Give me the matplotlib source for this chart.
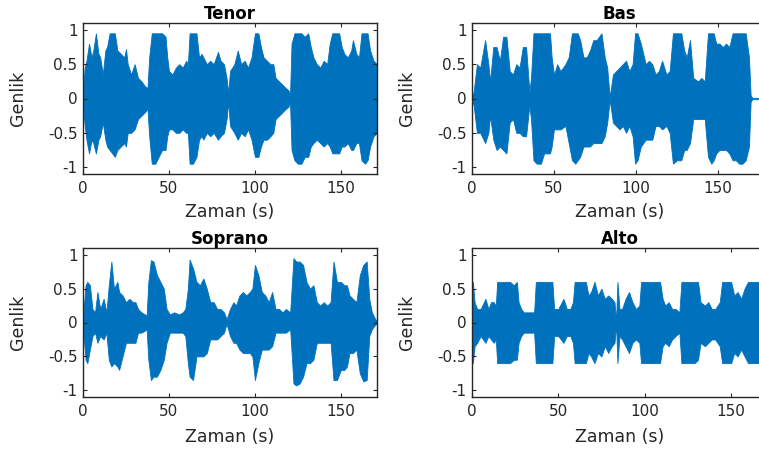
import numpy as np
import matplotlib
matplotlib.use("Agg")
import matplotlib.pyplot as plt

plt.rcParams['font.family'] = ['DejaVu Sans']
plt.rcParams['axes.unicode_minus'] = False

# ---- data: amplitude envelopes (time s, upper, lower) ----
tenor_t = [0, 1, 2, 3.5, 5, 6, 7.5, 9, 10, 11.5, 13, 14, 15.5, 17, 18.5, 20, 22, 24, 25, 26, 28, 30,
           32, 34, 36, 37.5, 38.5, 40, 42, 44, 46, 48, 49, 50, 52, 54, 56, 58, 60, 61, 62, 64, 66, 67.5,
           69, 70, 72, 74, 76, 78.5, 80, 82, 83.5, 84.5, 85.5, 88, 90, 92, 94, 96, 98, 100, 102, 103.5,
           105, 107, 109, 110.7, 112, 114, 116, 118, 119.5, 120.4, 121.3, 123, 125, 127, 129, 131, 132.5,
           134, 136, 138, 140, 142, 143.5, 145, 147, 149, 150.5, 152, 154, 156, 157, 159, 160.5, 162,
           164, 165.5, 167, 169, 171]
tenor_up = [0.1, 0.45, 0.55, 0.8, 0.6, 0.7, 0.95, 0.65, 0.6, 0.35, 0.7, 0.75, 0.95, 0.95, 0.95, 0.7,
            0.65, 0.6, 0.72, 0.5, 0.35, 0.5, 0.3, 0.25, 0.18, 0.15, 0.6, 0.95, 0.95, 0.95, 0.95, 0.9,
            0.6, 0.4, 0.35, 0.45, 0.5, 0.45, 0.55, 0.5, 0.95, 0.95, 0.95, 0.6, 0.65, 0.6, 0.5, 0.55,
            0.5, 0.68, 0.55, 0.5, 0.3, 0.08, 0.4, 0.5, 0.7, 0.5, 0.55, 0.45, 0.6, 0.95, 0.95, 0.75,
            0.6, 0.55, 0.5, 0.5, 0.3, 0.25, 0.2, 0.15, 0.12, 0.05, 0.8, 0.95, 0.95, 0.95, 0.9, 0.95,
            0.75, 0.6, 0.5, 0.45, 0.55, 0.5, 0.8, 0.95, 0.95, 0.95, 0.75, 0.65, 0.6, 0.7, 0.85, 0.65,
            0.6, 0.95, 0.95, 0.95, 0.7, 0.55, 0.5]
tenor_lo = [-0.1, -0.4, -0.6, -0.8, -0.6, -0.65, -0.8, -0.6, -0.55, -0.35, -0.6, -0.7, -0.75, -0.8,
            -0.85, -0.75, -0.7, -0.65, -0.7, -0.5, -0.5, -0.45, -0.3, -0.25, -0.2, -0.15, -0.55, -0.95,
            -0.95, -0.85, -0.75, -0.75, -0.55, -0.45, -0.45, -0.5, -0.5, -0.45, -0.5, -0.5, -0.95,
            -0.95, -0.85, -0.6, -0.55, -0.6, -0.5, -0.55, -0.5, -0.6, -0.55, -0.5, -0.3, -0.05, -0.4,
            -0.5, -0.6, -0.5, -0.55, -0.45, -0.6, -0.85, -0.85, -0.7, -0.6, -0.6, -0.55, -0.5, -0.3,
            -0.25, -0.2, -0.15, -0.12, -0.05, -0.75, -0.9, -0.95, -0.95, -0.85, -0.85, -0.7, -0.65,
            -0.6, -0.65, -0.7, -0.65, -0.7, -0.8, -0.8, -0.8, -0.7, -0.7, -0.65, -0.75, -0.75, -0.65,
            -0.65, -0.9, -0.95, -0.9, -0.7, -0.55, -0.5]

bas_t = [0, 1, 3, 5, 8, 10, 11, 13, 15, 17, 19, 21, 23, 25, 27, 29, 31, 33, 35, 36, 37.5, 39.5, 42,
         44, 46, 47.6, 48.6, 50, 52, 54, 57, 59, 61, 63, 64.5, 66, 68, 70, 72, 74, 76, 79, 81, 82.5,
         84, 86, 88, 90, 92, 94, 96, 98, 99.5, 101, 103, 106, 108, 110, 112, 114, 116, 118.6, 120.6,
         122.6, 125, 127.7, 129.5, 131, 133, 135, 138, 140, 142, 144, 146, 147.5, 149, 151, 153, 155,
         157, 159, 161, 163, 165, 167, 169, 170, 171, 180]
bas_up = [0.0, 0.1, 0.5, 0.45, 0.85, 0.5, 0.25, 0.75, 0.75, 0.55, 0.9, 0.9, 0.4, 0.35, 0.5, 0.45,
          0.75, 0.75, 0.1, 0.3, 0.95, 0.95, 0.95, 0.95, 0.95, 0.95, 0.6, 0.35, 0.5, 0.4, 0.5, 0.6,
          0.95, 0.95, 0.95, 0.85, 0.6, 0.6, 0.7, 0.85, 0.85, 0.95, 0.6, 0.45, 0.02, 0.35, 0.4, 0.45,
          0.5, 0.55, 0.4, 0.5, 0.95, 0.95, 0.8, 0.5, 0.55, 0.5, 0.35, 0.4, 0.55, 0.35, 0.4, 0.95,
          0.95, 0.95, 0.7, 0.6, 0.85, 0.3, 0.25, 0.3, 0.25, 0.95, 0.95, 0.95, 0.8, 0.8, 0.75, 0.8,
          0.75, 0.95, 0.95, 0.95, 0.95, 0.95, 0.6, 0.05, 0.01, 0.01]
bas_lo = [0.0, -0.1, -0.5, -0.5, -0.65, -0.5, -0.25, -0.6, -0.75, -0.7, -0.75, -0.8, -0.35, -0.3,
          -0.5, -0.5, -0.55, -0.55, -0.1, -0.3, -0.9, -0.95, -0.95, -0.8, -0.8, -0.8, -0.7, -0.45,
          -0.45, -0.45, -0.4, -0.65, -0.9, -0.95, -0.9, -0.85, -0.7, -0.7, -0.7, -0.65, -0.65,
          -0.65, -0.55, -0.35, -0.02, -0.35, -0.4, -0.45, -0.4, -0.5, -0.4, -0.55, -0.95, -0.9,
          -0.7, -0.6, -0.6, -0.6, -0.4, -0.4, -0.45, -0.4, -0.5, -0.95, -0.9, -0.9, -0.75, -0.75,
          -0.65, -0.3, -0.3, -0.3, -0.3, -0.85, -0.95, -0.9, -0.8, -0.75, -0.75, -0.75, -0.8, -0.9,
          -0.9, -0.95, -0.95, -0.9, -0.7, -0.05, -0.01, -0.01]

sop_t = [0, 0.7, 1.5, 2.5, 4, 5.5, 7, 8.4, 10, 12, 13.6, 15, 16.5, 18, 20, 21, 23, 25, 27, 29, 30.5,
         32, 34, 36, 37, 38, 39.5, 41, 43, 45, 47, 48.6, 50.5, 53, 56, 58, 59.5, 61, 62, 64, 66, 68,
         70, 72, 74, 76, 78, 80, 82, 83.5, 85.5, 87.5, 89, 91, 93, 95, 97, 98.5, 100, 102, 104, 106,
         108, 110, 112, 114, 116, 118, 120.5, 122.4, 124, 126, 128, 130, 132, 134, 136, 138, 140,
         142, 144, 145.7, 147.7, 150, 152, 153.5, 155, 157, 159, 161, 163, 165, 166.5, 168, 170, 171]
sop_up = [0.02, 0.3, 0.55, 0.6, 0.55, 0.2, 0.15, 0.45, 0.2, 0.35, 0.15, 0.55, 0.9, 0.5, 0.6, 0.45,
          0.4, 0.3, 0.35, 0.3, 0.3, 0.2, 0.15, 0.12, 0.1, 0.6, 0.92, 0.9, 0.7, 0.6, 0.5, 0.2, 0.12,
          0.15, 0.12, 0.15, 0.2, 0.5, 0.93, 0.8, 0.6, 0.55, 0.65, 0.5, 0.3, 0.3, 0.2, 0.2, 0.15, 0.05,
          0.2, 0.3, 0.25, 0.4, 0.45, 0.4, 0.45, 0.5, 0.85, 0.7, 0.45, 0.4, 0.3, 0.45, 0.2, 0.2, 0.15,
          0.2, 0.15, 0.95, 0.9, 0.9, 0.85, 0.6, 0.5, 0.55, 0.3, 0.25, 0.3, 0.25, 0.3, 0.9, 0.6, 0.6,
          0.55, 0.55, 0.4, 0.35, 0.3, 0.7, 0.85, 0.9, 0.35, 0.15, 0.05, 0.02]
sop_lo = [-0.02, -0.3, -0.55, -0.6, -0.4, -0.2, -0.15, -0.3, -0.2, -0.25, -0.15, -0.55, -0.65, -0.6,
          -0.65, -0.7, -0.5, -0.3, -0.3, -0.3, -0.3, -0.15, -0.15, -0.12, -0.1, -0.55, -0.85, -0.8,
          -0.8, -0.7, -0.55, -0.3, -0.15, -0.15, -0.15, -0.15, -0.2, -0.6, -0.8, -0.85, -0.5, -0.5,
          -0.5, -0.45, -0.25, -0.25, -0.25, -0.2, -0.15, -0.02, -0.2, -0.3, -0.3, -0.4, -0.45, -0.45,
          -0.45, -0.5, -0.85, -0.6, -0.4, -0.4, -0.4, -0.35, -0.15, -0.15, -0.15, -0.15, -0.1,
          -0.9, -0.93, -0.9, -0.8, -0.6, -0.6, -0.55, -0.3, -0.3, -0.3, -0.3, -0.3, -0.85, -0.85,
          -0.7, -0.7, -0.65, -0.45, -0.45, -0.4, -0.75, -0.87, -0.85, -0.2, -0.1, -0.03, -0.02]

alto_t = [0, 0.5, 1.5, 3, 5, 7.8, 9.5, 11, 12.6, 13.8, 14.6, 17, 20, 22, 24.3, 26, 27, 28.5, 30, 33,
          36, 37, 40, 43, 46.6, 47.6, 50, 53, 55, 57, 58.5, 59.5, 62, 64, 66, 67.5, 69, 71, 73, 75,
          77, 79, 81, 82.6, 83.5, 84.3, 85.5, 87, 89, 91, 93, 95, 97, 98, 100, 103, 106, 109, 110.5,
          112, 114, 116, 118, 120.2, 121.4, 124, 127, 129, 131, 132.5, 135, 137, 139, 141, 143.6,
          145, 148, 150.2, 152, 154, 156, 158, 160, 161.2, 164, 167, 171]
alto_up = [0.3, 0.6, 0.3, 0.2, 0.2, 0.35, 0.2, 0.3, 0.3, 0.25, 0.6, 0.6, 0.6, 0.6, 0.55, 0.6, 0.3,
           0.2, 0.15, 0.15, 0.15, 0.6, 0.6, 0.6, 0.6, 0.2, 0.2, 0.35, 0.2, 0.2, 0.3, 0.6, 0.6, 0.6,
           0.6, 0.4, 0.45, 0.6, 0.4, 0.5, 0.35, 0.4, 0.35, 0.3, 0.02, 0.6, 0.2, 0.2, 0.35, 0.45, 0.3,
           0.2, 0.25, 0.6, 0.6, 0.6, 0.6, 0.6, 0.35, 0.25, 0.3, 0.2, 0.2, 0.15, 0.6, 0.6, 0.6, 0.6,
           0.6, 0.3, 0.25, 0.3, 0.2, 0.2, 0.3, 0.6, 0.6, 0.6, 0.4, 0.45, 0.35, 0.5, 0.6, 0.6, 0.6,
           0.6, 0.6]
alto_lo = [-0.3, -0.6, -0.35, -0.3, -0.2, -0.3, -0.2, -0.25, -0.3, -0.25, -0.6, -0.6, -0.6, -0.6,
           -0.55, -0.55, -0.3, -0.2, -0.15, -0.15, -0.15, -0.6, -0.6, -0.6, -0.6, -0.2, -0.2, -0.3,
           -0.2, -0.2, -0.3, -0.6, -0.6, -0.6, -0.6, -0.45, -0.5, -0.6, -0.45, -0.5, -0.35, -0.45,
           -0.35, -0.3, -0.02, -0.6, -0.2, -0.25, -0.35, -0.45, -0.3, -0.25, -0.3, -0.6, -0.6, -0.6,
           -0.6, -0.6, -0.35, -0.3, -0.35, -0.25, -0.2, -0.15, -0.6, -0.6, -0.6, -0.6, -0.55, -0.3,
           -0.35, -0.3, -0.25, -0.25, -0.35, -0.6, -0.6, -0.6, -0.45, -0.5, -0.4, -0.5, -0.6, -0.6,
           -0.6, -0.6, -0.6]

titles = ['Tenor', 'Bas', 'Soprano', 'Alto']
series = [(tenor_t, tenor_up, tenor_lo), (bas_t, bas_up, bas_lo),
          (sop_t, sop_up, sop_lo), (alto_t, alto_up, alto_lo)]
xlims = [171, 180, 171, 171]
xticks = [0, 50, 100, 150]
yticks = [-1, -0.5, 0, 0.5, 1]
ytick_labels = ['-1', '-0.5', '0', '0.5', '1']

# ---- layout (pixel boxes) ----
W, H = 759, 450
boxes = [(83, 23, 294, 151), (472, 23, 295, 151), (83, 248, 294, 149), (472, 248, 295, 149)]
xlabel_y = [-0.252, -0.252, -0.268, -0.268]
blue = '#0072BD'
txt = '#262626'

fig = plt.figure(figsize=(W / 100, H / 100), dpi=100)
for (x0, y0, w, h), title, (t, up, lo), xl, xly in zip(boxes, titles, series, xlims, xlabel_y):
    ax = fig.add_axes([x0 / W, 1 - (y0 + h) / H, w / W, h / H])
    ax.fill_between(t, lo, up, color=blue, linewidth=0.6, edgecolor=blue)
    ax.set_xlim(0, xl)
    ax.set_ylim(-1.1, 1.1)
    ax.set_xticks(xticks)
    ax.set_yticks(yticks)
    ax.set_yticklabels(ytick_labels)
    ax.tick_params(direction='in', top=True, right=True, length=3, width=0.8,
                   labelsize=11, colors=txt)
    ax.tick_params(axis='x', pad=5)
    ax.tick_params(axis='y', pad=4)
    for s in ax.spines.values():
        s.set_linewidth(1.0)
        s.set_color(txt)
    ax.set_title(title, fontsize=12, fontweight='bold', color='black', pad=3)
    ax.set_xlabel('Zaman (s)', fontsize=12.5, color=txt, va='center')
    ax.xaxis.set_label_coords(0.5, xly)
    ax.set_ylabel('Genlik', fontsize=12.5, color=txt, va='center')
    ax.yaxis.set_label_coords(-0.221, 0.5)

fig.savefig('out.png', dpi=100)
